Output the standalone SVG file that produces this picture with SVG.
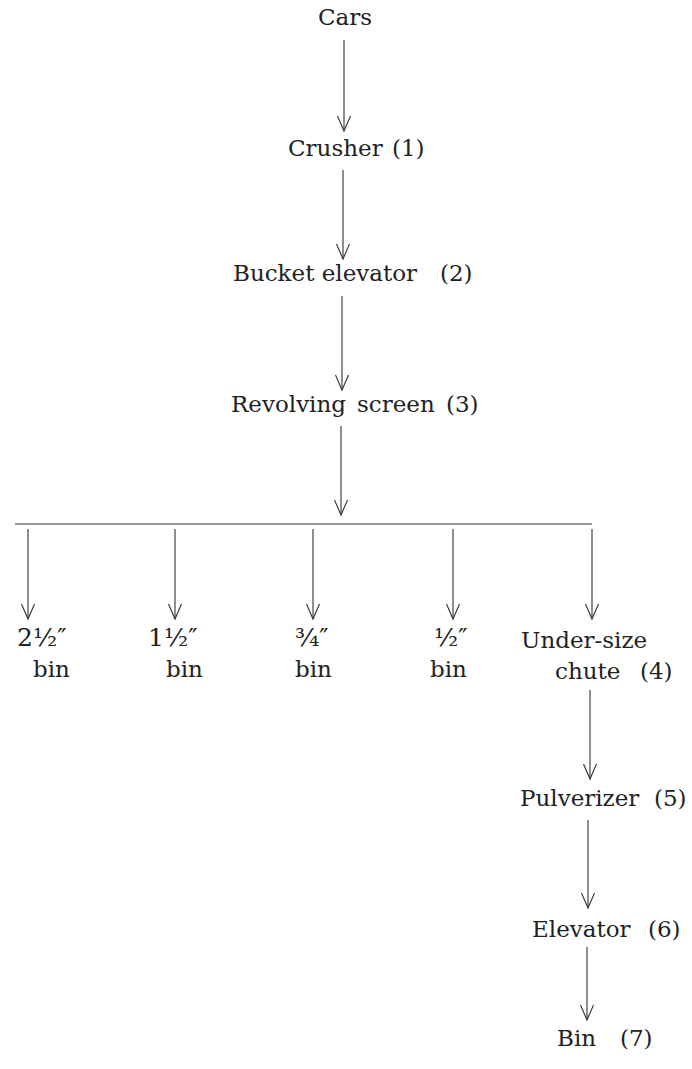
<svg xmlns="http://www.w3.org/2000/svg" width="692" height="1069" viewBox="0 0 692 1069">
<defs>
<style>
text{font-family:"DejaVu Serif","Liberation Serif",serif;font-size:23px;fill:#222}
.f{font-size:25px}
.c{stroke:#333;stroke-width:1.1;fill:none}
</style>
<marker id="ah" markerUnits="userSpaceOnUse" markerWidth="18" markerHeight="16" refX="16" refY="8" viewBox="0 0 18 16" orient="auto" overflow="visible">
<path d="M1,1.5 L16,8 L1,14.5" fill="none" stroke="#333" stroke-width="1.1"/>
</marker>
</defs>
<rect width="692" height="1069" fill="#fff"/>
<g id="connectors">
<line class="c" x1="344" y1="40" x2="344" y2="131" marker-end="url(#ah)"/>
<line class="c" x1="343" y1="170" x2="343" y2="259" marker-end="url(#ah)"/>
<line class="c" x1="342" y1="296" x2="342" y2="390" marker-end="url(#ah)"/>
<line class="c" x1="341" y1="426" x2="341" y2="515" marker-end="url(#ah)"/>
<line class="c" x1="15" y1="524" x2="592" y2="524"/>
<line class="c" x1="28" y1="529" x2="28" y2="619" marker-end="url(#ah)"/>
<line class="c" x1="175" y1="529" x2="175" y2="619" marker-end="url(#ah)"/>
<line class="c" x1="313" y1="529" x2="313" y2="619" marker-end="url(#ah)"/>
<line class="c" x1="453" y1="529" x2="453" y2="619" marker-end="url(#ah)"/>
<line class="c" x1="592" y1="529" x2="592" y2="619" marker-end="url(#ah)"/>
<line class="c" x1="590" y1="690" x2="590" y2="779" marker-end="url(#ah)"/>
<line class="c" x1="588" y1="820" x2="588" y2="908" marker-end="url(#ah)"/>
<line class="c" x1="587" y1="947" x2="587" y2="1020" marker-end="url(#ah)"/>
</g>
<g id="cars"><text x="345" y="25" text-anchor="middle">Cars</text></g>
<g id="crusher"><text x="288" y="156">Crusher<tspan x="392">(1)</tspan></text></g>
<g id="bucket-elevator"><text x="233" y="281">Bucket elevator<tspan x="440">(2)</tspan></text></g>
<g id="revolving-screen"><text x="231" y="412">Revolving<tspan x="357">screen</tspan><tspan x="446">(3)</tspan></text></g>
<g id="bin-2-5"><text class="f" x="17" y="646">2½″</text><text x="33" y="677">bin</text></g>
<g id="bin-1-5"><text class="f" x="148" y="646">1½″</text><text x="166" y="677">bin</text></g>
<g id="bin-0-75"><text class="f" x="295" y="646">¾″</text><text x="295" y="677">bin</text></g>
<g id="bin-0-5"><text class="f" x="434" y="646">½″</text><text x="430" y="677">bin</text></g>
<g id="under-size-chute"><text x="521" y="648">Under-size</text><text x="555" y="679">chute<tspan x="640">(4)</tspan></text></g>
<g id="pulverizer"><text x="520" y="806">Pulverizer<tspan x="654">(5)</tspan></text></g>
<g id="elevator"><text x="532" y="937">Elevator<tspan x="648">(6)</tspan></text></g>
<g id="bin-7"><text x="557" y="1046">Bin<tspan x="620">(7)</tspan></text></g>
</svg>
